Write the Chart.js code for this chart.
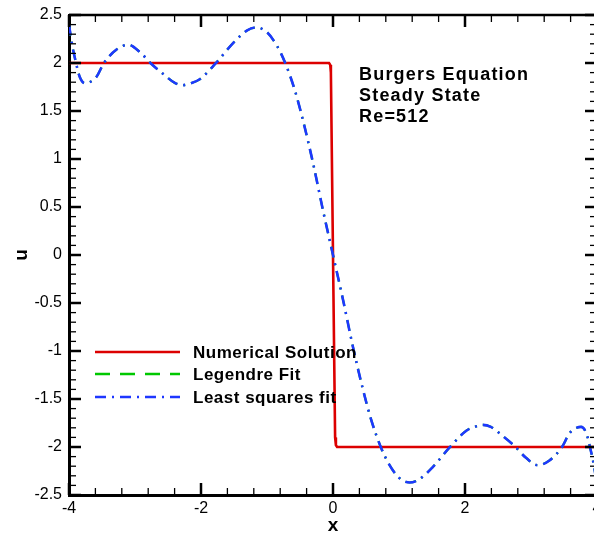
<!DOCTYPE html>
<html lang="en">
<head>
  <meta charset="UTF-8">
  <title>Burgers Equation Steady State</title>
  <script src="https://cdn.jsdelivr.net/npm/chart.js"></script>
  <style>
    body {
      margin: 0;
      background: #fff;
    }
    .wrap {
      width: 594px;
      height: 539px;
      overflow: hidden;
    }
  </style>
</head>
<body>
  <div class="wrap">
    <canvas id="burgers" width="603" height="539"></canvas>
  </div>

  <script>
    // numerical solution (red)
    const numX = [-4, -0.06, -0.042, -0.032, 0.032, 0.044, 0.062, 4];
    const numU = [2, 2, 1.98, 1.9, -1.9, -1.98, -2, -2];

    // least squares / legendre fit (they lie on top of each other)
    const fitX = [-4.0, -3.95, -3.9, -3.84, -3.76, -3.66, -3.58, -3.47, -3.28, -3.1,
                  -2.92, -2.75, -2.58, -2.39, -2.27, -2.15, -2.02, -1.76, -1.51, -1.3,
                  -1.16, -1.0, -0.85, -0.73, -0.58, -0.45, -0.3, -0.15, 0,
                  0.15, 0.3, 0.45, 0.58, 0.73, 0.85, 1.0, 1.16, 1.3, 1.51,
                  1.76, 2.02, 2.15, 2.27, 2.39, 2.58, 2.75, 2.92, 3.1, 3.28,
                  3.47, 3.58, 3.66, 3.76, 3.84, 3.9, 3.95, 4.0];
    const fitU = [2.40, 2.18, 2.02, 1.86, 1.79, 1.81, 1.86, 2.00, 2.14, 2.19,
                  2.11, 1.99, 1.89, 1.79, 1.77, 1.79, 1.83, 2.01, 2.21, 2.34,
                  2.37, 2.32, 2.18, 2.01, 1.72, 1.39, 0.95, 0.46, 0,
                  -0.46, -0.95, -1.39, -1.72, -2.01, -2.18, -2.32, -2.37, -2.34, -2.21,
                  -2.01, -1.83, -1.79, -1.77, -1.79, -1.89, -1.99, -2.11, -2.19, -2.14,
                  -2.00, -1.86, -1.81, -1.79, -1.86, -2.02, -2.18, -2.40];

    const seriesNames = ['Numerical Solution', 'Legendre Fit', 'Least squares fit'];
    const legendDash = [[], [15, 10], [11, 6, 2, 6]];
    const noteLines = ['Burgers Equation', 'Steady State', 'Re=512'];

    const pts = (xs, ys) => xs.map((x, i) => ({ x: x, y: ys[i] }));

    const FONT = "'Liberation Sans', Arial, sans-serif";

    // inward ticks on all four sides + top/right frame, legend and note
    const frame = {
      id: 'frame',
      afterDraw(chart) {
        const ctx = chart.ctx;
        const a = chart.chartArea;
        const xs = chart.scales.x, ys = chart.scales.y;
        ctx.save();
        ctx.strokeStyle = '#000';
        ctx.lineWidth = 2.5;
        ctx.beginPath();
        ctx.moveTo(a.left, a.top); ctx.lineTo(a.right, a.top); ctx.lineTo(a.right, a.bottom);
        ctx.stroke();

        const tick = (x1, y1, x2, y2, w) => {
          ctx.lineWidth = w;
          ctx.beginPath(); ctx.moveTo(x1, y1); ctx.lineTo(x2, y2); ctx.stroke();
        };
        for (let i = 0; i <= 20; i++) {
          const v = -4 + i * 0.4;
          const px = xs.getPixelForValue(v);
          const major = i % 5 === 0;
          const len = major ? 12 : 7;
          const w = major ? 2.5 : 1.3;
          tick(px, a.bottom, px, a.bottom - len, w);
          tick(px, a.top, px, a.top + len, w);
        }
        for (let i = 0; i <= 50; i++) {
          const v = -2.5 + i * 0.1;
          const py = ys.getPixelForValue(v);
          const major = i % 5 === 0;
          const len = major ? 12 : 7;
          const w = major ? 2.5 : 1.3;
          tick(a.left, py, a.left + len, py, w);
          tick(a.right, py, a.right - len, py, w);
        }

        // legend
        ctx.letterSpacing = '0.5px';
        ctx.font = 'bold 17px ' + FONT;
        ctx.textBaseline = 'middle';
        ctx.fillStyle = '#000';
        const rows = [352, 374, 397];
        chart.data.datasets.forEach((ds, i) => {
          ctx.strokeStyle = ds.borderColor;
          ctx.lineWidth = 2.6;
          ctx.setLineDash(legendDash[i]);
          ctx.beginPath(); ctx.moveTo(95, rows[i]); ctx.lineTo(180, rows[i]); ctx.stroke();
          ctx.setLineDash([]);
          ctx.fillText(seriesNames[i], 193, rows[i] + 1);
        });

        // note
        ctx.letterSpacing = '1.2px';
        ctx.font = 'bold 18px ' + FONT;
        noteLines.forEach((t, i) => ctx.fillText(t, 359, 75 + i * 21));
        ctx.restore();
      }
    };

    new Chart(document.getElementById('burgers'), {
      type: 'line',
      data: {
        datasets: [
          {
            label: seriesNames[0],
            data: pts(numX, numU),
            borderColor: 'rgb(220,0,0)',
            borderWidth: 2.6,
            pointRadius: 0,
            tension: 0,
            order: 2
          },
          {
            // hidden almost entirely under the least squares curve
            label: seriesNames[1],
            data: pts(fitX, fitU),
            borderColor: 'rgb(0,200,0)',
            borderWidth: 2.2,
            borderDash: [11, 6, 2, 6],
            pointRadius: 0,
            cubicInterpolationMode: 'monotone',
            order: 1
          },
          {
            label: seriesNames[2],
            data: pts(fitX, fitU),
            borderColor: 'rgb(30,55,255)',
            borderWidth: 2.6,
            borderDash: [11, 6, 2, 6],
            pointRadius: 0,
            cubicInterpolationMode: 'monotone',
            order: 0
          }
        ]
      },
      options: {
        responsive: false,
        animation: false,
        devicePixelRatio: 1,
        layout: { padding: { top: 15, right: 6, left: 0, bottom: 0 } },
        plugins: {
          legend: { display: false },
          tooltip: { enabled: false }
        },
        scales: {
          x: {
            type: 'linear',
            min: -4,
            max: 4,
            afterFit: (s) => { s.height = 44; s.paddingLeft = 0; s.paddingRight = 0; },
            ticks: {
              stepSize: 2,
              padding: 4,
              color: '#000',
              font: { family: FONT, size: 16 }
            },
            grid: { display: false, drawTicks: false },
            border: { display: true, color: '#000', width: 3 },
            title: {
              display: true,
              text: 'x',
              color: '#000',
              font: { family: FONT, size: 19, weight: 'bold' },
              padding: { top: 0, bottom: 2 }
            }
          },
          y: {
            min: -2.5,
            max: 2.5,
            afterFit: (s) => { s.width = 69; s.paddingTop = 0; s.paddingBottom = 0; },
            ticks: {
              stepSize: 0.5,
              padding: 7,
              color: '#000',
              font: { family: FONT, size: 16 },
              callback: (v) => String(v)
            },
            grid: { display: false, drawTicks: false },
            border: { display: true, color: '#000', width: 3 },
            title: {
              display: true,
              text: 'u',
              color: '#000',
              font: { family: FONT, size: 19, weight: 'bold' },
              padding: { top: 10, bottom: 0 }
            }
          }
        }
      },
      plugins: [frame]
    });
  </script>
</body>
</html>
